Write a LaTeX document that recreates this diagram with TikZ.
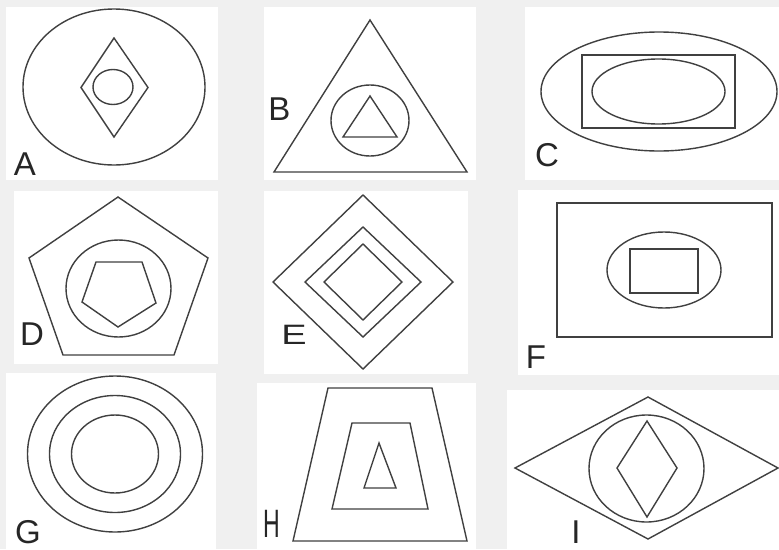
\documentclass[tikz,border=0pt]{standalone}
\usepackage{fontspec}
\setmainfont{Liberation Sans}
\tikzset{
  fig/.style={line width=1.4pt, draw=black!75, line join=miter},
  lab/.style={font=\fontsize{33}{33}\selectfont, inner sep=0pt, text=black!85},
}

\begin{document}
\begin{tikzpicture}[x=1pt,y=-1pt]
% Background and white panels
\fill[gray!12] (0,0) rectangle (779,549);
\useasboundingbox (0,0) rectangle (779,549);
\foreach \xa/\ya/\xb/\yb in {6/7/218/180, 264/7/476/180, 525/7/779/180,
    14/191/218/364, 264/191/468/374, 518/190/779/375,
    6/373/216/549, 257/383/476/549, 507/390/779/549} {
  \fill[white] (\xa,\ya) rectangle (\xb,\yb);
}
% A: ellipse, diamond, small ellipse
\draw[fig] (114,87) ellipse (91 and 78);
\draw[fig] (114,38) -- (148,87.5) -- (114,137) -- (81,87.5) -- cycle;
\draw[fig] (113,87) ellipse (20 and 17.5);
\node[lab] (labA) at (25,164) {A};
% B: triangle, circle, triangle
\draw[fig] (370,20) -- (467,172) -- (274,172) -- cycle;
\draw[fig] (370,120.5) ellipse (39 and 35.5);
\draw[fig] (370,96) -- (397,137) -- (343,137) -- cycle;
\node[lab] (labB) at (279.5,109) {B};
% C: ellipse, rectangle, ellipse
\draw[fig] (659,91.5) ellipse (118 and 59.5);
\draw[fig] (582,55) rectangle (735,128);
\draw[fig] (658.5,91.5) ellipse (66.5 and 32.5);
\node[lab] (labC) at (547,155) {C};
% D: pentagon, circle, inverted pentagon
\draw[fig] (118,197) -- (208,258) -- (174,355) -- (63,355) -- (29,258) -- cycle;
\draw[fig] (118.5,288.5) ellipse (52.5 and 48.5);
\draw[fig] (96,262) -- (142,262) -- (156,303) -- (118,327) -- (82,302) -- cycle;
\node[lab] (labD) at (32,334.5) {D};
% E: three diamonds
\foreach \w/\h in {90/87, 58/55, 39/38} {
  \draw[fig] (363,282-\h) -- (363+\w,282) -- (363,282+\h) -- (363-\w,282) -- cycle;
}
\node[lab] (labE) at (294,335) {\scalebox{1.15}[0.85]{E}};
% F: rectangle, ellipse, rectangle
\draw[fig] (557,203) rectangle (772,337);
\draw[fig] (664,270) ellipse (57 and 38);
\draw[fig] (630,249) rectangle (698,293);
\node[lab] (labF) at (536,357) {F};
% G: three circles
\foreach \rx/\ry in {87.5/78, 65.5/58.5, 43.5/39} {
  \draw[fig] (115,454) ellipse [x radius=\rx, y radius=\ry];
}
\node[lab] (labG) at (28,532) {G};
% H: two trapezoids, triangle
\draw[fig] (328,388) -- (432,388) -- (467,541) -- (293,541) -- cycle;
\draw[fig] (352,423) -- (410,423) -- (428,509) -- (332,509) -- cycle;
\draw[fig] (379,443) -- (396,488) -- (364,488) -- cycle;
\node[lab] (labH) at (271.5,523.5) {\scalebox{0.7}[1.2]{H}};
% I: wide diamond, circle, diamond
\draw[fig] (648,397) -- (778,468) -- (648,539) -- (515,468) -- cycle;
\draw[fig] (646.5,468.5) ellipse (57.5 and 53.5);
\draw[fig] (647,421) -- (677,468) -- (647,517) -- (617,468) -- cycle;
\node[lab] (labI) at (576,532) {I};
\end{tikzpicture}
\end{document}
